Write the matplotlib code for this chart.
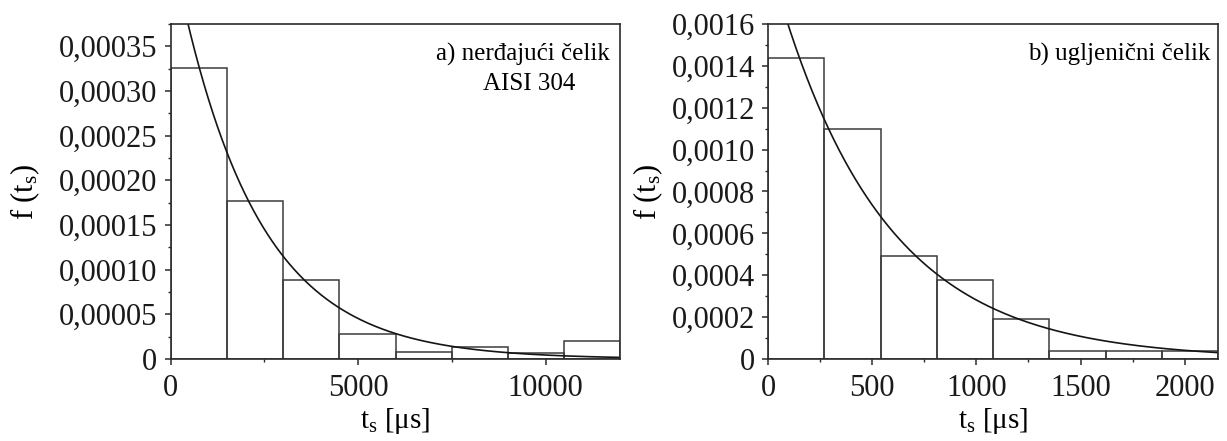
import numpy as np
import matplotlib
matplotlib.use('Agg')
import matplotlib.pyplot as plt
from matplotlib.ticker import FuncFormatter, MultipleLocator

plt.rcParams['font.family'] = ['Liberation Serif', 'DejaVu Serif']
plt.rcParams['mathtext.fontset'] = 'custom'
plt.rcParams['mathtext.rm'] = 'Liberation Serif'
plt.rcParams['mathtext.it'] = 'Liberation Serif:italic'

# a) nerđajući čelik AISI 304
edges_a = [0, 1500, 3000, 4500, 6000, 7500, 9000, 10500]
heights_a = [0.000326, 0.0001765, 0.0000883, 0.0000276, 0.0000075, 0.000013, 0.0000064, 0.0000205]
width_a = 1500
lam_a = 0.000466  # eksponencijalna raspodjela f(t) = lam * exp(-lam * t)

# b) ugljenični čelik
edges_b = [0, 270, 540, 810, 1080, 1350, 1620, 1890]
heights_b = [0.001437, 0.001098, 0.000492, 0.000378, 0.00019, 0.000038, 0.000038, 0.000038]
width_b = 270
lam_b = 0.00192

fig = plt.figure(figsize=(12.27, 4.41), dpi=100)
ax1 = fig.add_axes([0.139, 0.186, 0.3667, 0.7596])
ax2 = fig.add_axes([0.626, 0.186, 0.3667, 0.7596])

frame_col = '#2a2a2a'
bar_col = '#3c3c3c'


def fmt(dec):
    def f(v, pos):
        if abs(v) < 1e-12:
            return '0'
        return f'{v:.{dec}f}'.replace('.', ',')
    return FuncFormatter(f)


def draw(ax, edges, heights, width, lam, xmax, ymax):
    ax.bar(edges, heights, width=width, align='edge', fill=False,
           edgecolor=bar_col, linewidth=1.1)
    t = np.linspace(0, xmax, 500)
    ax.plot(t, lam * np.exp(-lam * t), color='#151515', lw=1.2)
    ax.set_xlim(0, xmax)
    ax.set_ylim(0, ymax)
    for s in ax.spines.values():
        s.set_color(frame_col)
        s.set_linewidth(1.2)
    ax.tick_params(which='both', direction='out', top=False, right=False,
                   colors=frame_col, labelcolor='#1a1a1a', labelsize=22)
    ax.tick_params(axis='y', pad=5)
    ax.tick_params(axis='x', pad=6)
    ax.tick_params(which='major', length=4.5, width=1.1)
    ax.tick_params(which='minor', length=2.5, width=1.0)
    ax.set_ylabel('f (t$_\\mathrm{s}$)', fontsize=22)
    ax.set_xlabel('t$_\\mathrm{s}$ [μs]', fontsize=21)


draw(ax1, edges_a, heights_a, width_a, lam_a, 12000, 0.000375)
ax1.xaxis.set_major_locator(MultipleLocator(5000))
ax1.xaxis.set_minor_locator(MultipleLocator(2500))
ax1.yaxis.set_major_locator(MultipleLocator(0.00005))
ax1.yaxis.set_minor_locator(MultipleLocator(0.000025))
ax1.yaxis.set_major_formatter(fmt(5))
ax1.yaxis.set_label_coords(-0.285, 0.5)
ax1.xaxis.set_label_coords(0.5, -0.14)
ax1.text(0.976, 0.91, 'a) nerđajući čelik', transform=ax1.transAxes,
         ha='right', va='center', fontsize=18)
ax1.text(0.797, 0.82, 'AISI 304', transform=ax1.transAxes,
         ha='center', va='center', fontsize=18)

draw(ax2, edges_b, heights_b, width_b, lam_b, 2160, 0.0016)
ax2.xaxis.set_major_locator(MultipleLocator(500))
ax2.xaxis.set_minor_locator(MultipleLocator(250))
ax2.yaxis.set_major_locator(MultipleLocator(0.0002))
ax2.yaxis.set_minor_locator(MultipleLocator(0.0001))
ax2.yaxis.set_major_formatter(fmt(4))
ax2.yaxis.set_label_coords(-0.23, 0.5)
ax2.xaxis.set_label_coords(0.5, -0.14)
ax2.text(0.982, 0.91, 'b) ugljenični čelik', transform=ax2.transAxes,
         ha='right', va='center', fontsize=18)

fig.savefig('out.png', dpi=100)
